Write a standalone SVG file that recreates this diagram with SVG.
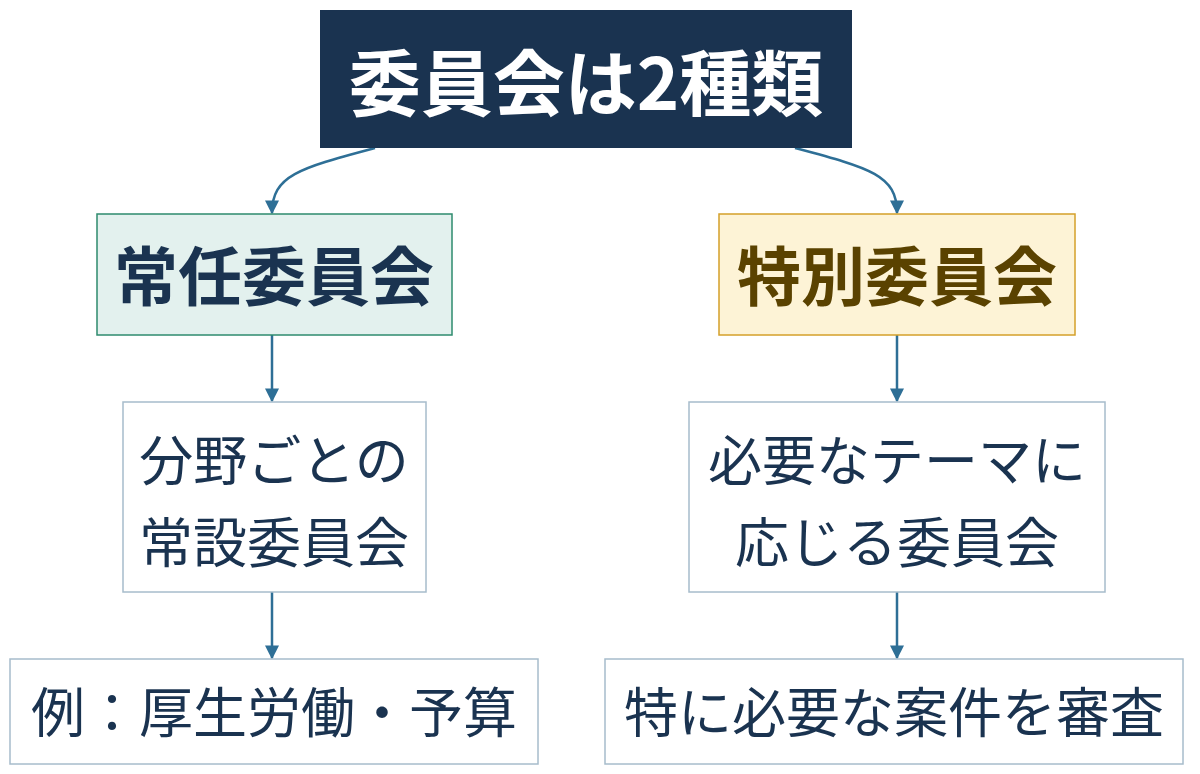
<svg xmlns="http://www.w3.org/2000/svg" width="1200" height="774" viewBox="0 0 1200 774">
<defs>
<marker id="ah" viewBox="0 0 10 10" refX="9" refY="5" markerWidth="14" markerHeight="14" orient="auto" markerUnits="userSpaceOnUse"><path d="M0,0 L10,5 L0,10 z" fill="#2e6f96"/></marker>
<style>
text{font-family:"Noto Sans CJK JP","Noto Sans",sans-serif;text-anchor:middle;dominant-baseline:central}
.c{fill:none;stroke:#2e6f96;stroke-width:2.5;marker-end:url(#ah)}
.w{fill:#fff;stroke:#a7bccb;stroke-width:1.5}
.t{fill:#1a3350;font-size:54px}
</style>
</defs>
<rect width="1200" height="774" fill="#fff"/>
<g id="connectors">
<path class="c" d="M375,148 C300,168 272,175 272,213"/>
<path class="c" d="M795,148 C870,168 897,175 897,213"/>
<path class="c" d="M272,335 V401"/>
<path class="c" d="M897,335 V401"/>
<path class="c" d="M272,592 V658"/>
<path class="c" d="M897,592 V658"/>
</g>
<g id="top"><rect x="320" y="10" width="532" height="138" fill="#1a3350"/><text x="586" y="78" fill="#fff" font-size="72" font-weight="bold">委員会は2種類</text></g>
<g id="left1"><rect x="97" y="214" width="355" height="121" fill="#e3f1ee" stroke="#2e8b6e" stroke-width="1.5"/><text x="274" y="272" fill="#1a3350" font-size="64" font-weight="bold">常任委員会</text></g>
<g id="right1"><rect x="719" y="214" width="356" height="121" fill="#fdf3d6" stroke="#d4a02a" stroke-width="1.5"/><text x="897" y="272" fill="#5a4200" font-size="64" font-weight="bold">特別委員会</text></g>
<g id="left2"><rect class="w" x="123" y="402" width="303" height="190"/><text class="t" x="274" y="457">分野ごとの</text><text class="t" x="274" y="539">常設委員会</text></g>
<g id="right2"><rect class="w" x="689" y="402" width="416" height="190"/><text class="t" x="897" y="457">必要なテーマに</text><text class="t" x="897" y="539">応じる委員会</text></g>
<g id="left3"><rect class="w" x="10" y="659" width="528" height="105"/><text class="t" x="274" y="709">例：厚生労働・予算</text></g>
<g id="right3"><rect class="w" x="605" y="659" width="578" height="105"/><text class="t" x="894" y="709">特に必要な案件を審査</text></g>
</svg>
